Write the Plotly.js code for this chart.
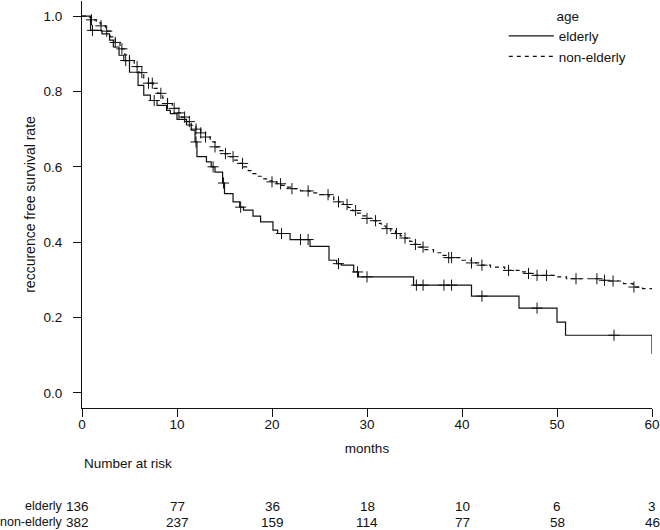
<!DOCTYPE html>
<html>
<head>
<meta charset="utf-8">
<script src="https://cdn.plot.ly/plotly-3.0.1.min.js"></script>
<style>body{margin:0;padding:0;background:#fff}#chart{width:660px;height:530px}</style>
</head>
<body>
<div id="chart"></div>
<script>
// Kaplan-Meier step data (time in months, survival)
var elderlyTime = [0, 0.9, 2.1, 2.9, 3.3, 3.9, 4.4, 5.0, 5.9, 6.5, 7.2, 7.9, 8.9, 9.3, 10.0, 11.0, 11.5, 11.9, 12.1, 13.1, 13.6, 14.0, 14.8, 15.0, 15.9, 16.6, 17.0, 18.0, 18.8, 20.1, 20.6, 21.9, 24.0, 26.0, 26.8, 27.3, 28.6, 29.1, 34.9, 41.0, 46.0, 50.0, 50.9, 60.0];
var elderlySurv = [1.0, 0.962, 0.953, 0.936, 0.918, 0.896, 0.882, 0.851, 0.816, 0.790, 0.776, 0.763, 0.750, 0.741, 0.726, 0.711, 0.697, 0.666, 0.627, 0.613, 0.600, 0.586, 0.557, 0.529, 0.507, 0.493, 0.485, 0.469, 0.454, 0.432, 0.423, 0.407, 0.389, 0.352, 0.343, 0.339, 0.321, 0.308, 0.286, 0.257, 0.225, 0.188, 0.153, 0.103];
var elderlyCensor = [1.1, 4.6, 7.6, 12.0, 13.8, 14.9, 16.7, 21.0, 23.0, 23.8, 27.0, 29.0, 30.0, 35.2, 35.9, 38.1, 38.9, 42.1, 47.9, 56.0];

var nonElderlyTime = [0, 0.5, 1.0, 1.5, 2.0, 2.5, 3.0, 3.5, 4.0, 4.5, 5.0, 5.5, 6.0, 6.5, 7.0, 7.5, 8.0, 8.5, 9.0, 9.5, 10.0, 10.5, 11.0, 11.5, 12.0, 12.5, 13.0, 13.5, 14.0, 14.5, 15.0, 15.5, 16.0, 16.5, 17.0, 17.5, 18.0, 18.5, 19.0, 19.5, 20.0, 20.5, 21.0, 21.5, 22.0, 23.0, 24.0, 25.0, 26.0, 26.5, 27.0, 27.5, 28.0, 28.5, 29.0, 29.5, 30.0, 30.5, 31.0, 31.5, 32.0, 32.5, 33.0, 33.5, 34.0, 34.5, 35.0, 35.5, 36.0, 37.0, 38.0, 38.5, 40.0, 41.0, 42.0, 43.0, 44.5, 46.0, 47.0, 47.5, 50.0, 51.0, 54.5, 55.5, 57.0, 58.0, 59.0, 60.0];
var nonElderlySurv = [1.0, 0.997, 0.99, 0.982, 0.974, 0.96, 0.945, 0.93, 0.913, 0.897, 0.882, 0.866, 0.85, 0.835, 0.822, 0.808, 0.795, 0.782, 0.768, 0.755, 0.743, 0.732, 0.72, 0.71, 0.70, 0.69, 0.679, 0.666, 0.653, 0.643, 0.635, 0.627, 0.618, 0.609, 0.60, 0.59, 0.582, 0.575, 0.568, 0.563, 0.56, 0.555, 0.551, 0.546, 0.542, 0.536, 0.531, 0.526, 0.52, 0.513, 0.507, 0.50, 0.492, 0.484, 0.477, 0.47, 0.463, 0.457, 0.45, 0.443, 0.436, 0.43, 0.423, 0.417, 0.411, 0.402, 0.394, 0.387, 0.38, 0.372, 0.365, 0.359, 0.352, 0.345, 0.339, 0.334, 0.325, 0.321, 0.317, 0.312, 0.308, 0.303, 0.299, 0.297, 0.29, 0.281, 0.277, 0.277];
var nonElderlyCensor = [1.0, 2.0, 2.6, 3.5, 4.2, 5.0, 5.8, 6.3, 7.0, 7.4, 8.3, 9.0, 9.7, 10.2, 10.8, 11.3, 12.0, 12.5, 13.0, 14.0, 15.1, 15.9, 16.9, 20.0, 20.9, 22.1, 23.8, 25.9, 27.0, 27.9, 28.8, 30.0, 30.9, 32.1, 33.1, 34.0, 35.1, 35.9, 38.6, 38.9, 41.0, 42.1, 44.9, 47.0, 47.9, 48.9, 52.0, 54.2, 55.0, 55.9, 58.1];

// Number at risk table
var riskTimes = [0, 10, 20, 30, 40, 50, 60];
var elderlyRisk = [136, 77, 36, 18, 10, 6, 3];
var nonElderlyRisk = [382, 237, 159, 114, 77, 58, 46];
var groupNames = ['elderly', 'non-elderly'];

var xTicks = [0, 10, 20, 30, 40, 50, 60];
var yTicks = [0, 0.2, 0.4, 0.6, 0.8, 1.0];
var yTickText = ['0.0', '0.2', '0.4', '0.6', '0.8', '1.0'];

function stepValue(times, survs, t) {
  var v = survs[0];
  for (var i = 0; i < times.length; i++) { if (times[i] <= t) v = survs[i]; }
  return v;
}

var FONT = 'Arial, "Liberation Sans", sans-serif';
var INK = '#111';
var FS = 13.5;

var traces = [
  {x: elderlyTime, y: elderlySurv, type: 'scatter', mode: 'lines', name: groupNames[0],
   line: {shape: 'hv', color: INK, width: 1.2}},
  {x: nonElderlyTime, y: nonElderlySurv, type: 'scatter', mode: 'lines', name: groupNames[1],
   line: {shape: 'hv', color: INK, width: 1.2, dash: '4px,4px'}},
  {x: elderlyCensor, y: elderlyCensor.map(function(t){return stepValue(elderlyTime, elderlySurv, t);}),
   type: 'scatter', mode: 'markers', showlegend: false, hoverinfo: 'skip',
   marker: {symbol: 'cross-thin', size: 8, line: {color: INK, width: 1}}},
  {x: nonElderlyCensor, y: nonElderlyCensor.map(function(t){return stepValue(nonElderlyTime, nonElderlySurv, t);}),
   type: 'scatter', mode: 'markers', showlegend: false, hoverinfo: 'skip',
   marker: {symbol: 'cross-thin', size: 8, line: {color: INK, width: 1}}}
];

var PLOT_BOTTOM = 408; // px from top of figure
var annotations = [];
annotations.push({xref: 'paper', yref: 'paper', x: 0, y: 0, xanchor: 'left', yanchor: 'middle',
  yshift: -(463 - PLOT_BOTTOM), showarrow: false, text: 'Number at risk', font: {family: FONT, size: FS, color: INK}});
var rows = [elderlyRisk, nonElderlyRisk];
var rowY = [506, 522];
for (var r = 0; r < rows.length; r++) {
  annotations.push({xref: 'paper', yref: 'paper', x: 0, y: 0, xanchor: 'right', yanchor: 'middle',
    xshift: -17, yshift: -(rowY[r] - PLOT_BOTTOM), showarrow: false, text: groupNames[r],
    font: {family: FONT, size: 12.5, color: INK}});
  for (var i = 0; i < riskTimes.length; i++) {
    annotations.push({xref: 'x', yref: 'paper', x: riskTimes[i], y: 0, xanchor: 'center', yanchor: 'middle',
      xshift: i === 0 ? -5 : 0, yshift: -(rowY[r] - PLOT_BOTTOM), showarrow: false,
      text: String(rows[r][i]), font: {family: FONT, size: FS, color: INK}});
  }
}

var layout = {
  width: 660, height: 530,
  margin: {l: 82, r: 8, t: 1, b: 530 - PLOT_BOTTOM},
  paper_bgcolor: '#fff', plot_bgcolor: '#fff',
  font: {family: FONT, size: FS, color: INK},
  showlegend: true,
  legend: {x: 0.74, y: 0.995, xanchor: 'left', yanchor: 'top', bgcolor: 'rgba(0,0,0,0)',
    itemwidth: 45, tracegroupgap: 0, font: {family: FONT, size: FS, color: INK},
    title: {text: 'age', side: 'top center', font: {family: FONT, size: FS, color: INK}}},
  xaxis: {range: [0, 60], tickvals: xTicks, ticks: 'outside', ticklen: 8, tickcolor: INK, tickwidth: 1,
    showline: true, linecolor: INK, linewidth: 1, showgrid: false, zeroline: false,
    tickfont: {family: FONT, size: FS, color: INK}, ticklabelstandoff: -4,
    title: {text: 'months', standoff: 12, font: {family: FONT, size: FS, color: INK}}, fixedrange: true},
  yaxis: {range: [-0.04, 1.04], tickvals: yTicks, ticktext: yTickText, ticks: 'outside', ticklen: 8,
    tickcolor: INK, tickwidth: 1, showline: true, linecolor: INK, linewidth: 1, showgrid: false, zeroline: false,
    tickfont: {family: FONT, size: FS, color: INK}, ticklabelstandoff: 8,
    title: {text: 'reccurence free survival rate', standoff: 4, font: {family: FONT, size: 14, color: INK}}, fixedrange: true},
  annotations: annotations
};

Plotly.newPlot('chart', traces, layout, {displayModeBar: false, staticPlot: true});
</script>
</body>
</html>
